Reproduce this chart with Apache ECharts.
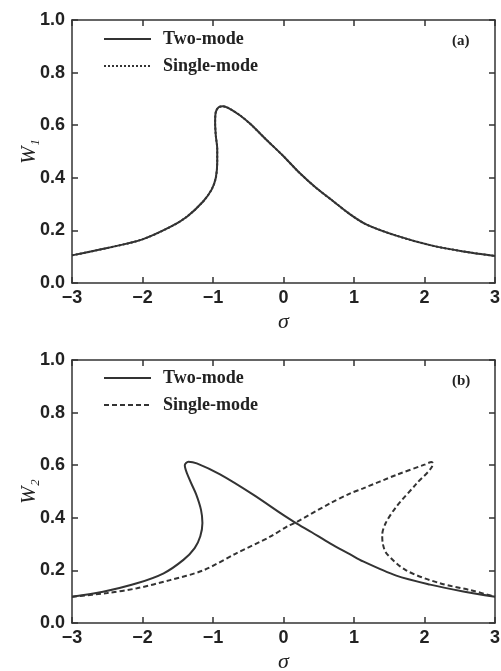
<!DOCTYPE html>
<html>
<head>
<meta charset="utf-8">
<script src="https://cdn.jsdelivr.net/npm/echarts@6/dist/echarts.min.js"></script>
<style>
  html, body { margin: 0; padding: 0; background: #fff; }
  #chart { width: 501px; height: 671px; }
</style>
</head>
<body>
<div id="chart"></div>
<script>
// panel (a): both models give the same W1 curve
const sigmaTop = [-3, -2.5, -2.0, -1.6, -1.37, -1.14, -1.02, -0.96, -0.94, -0.94, -0.96, -0.97, -0.96, -0.92, -0.86, -0.78, -0.62, -0.48, -0.24, 0, 0.23, 0.47, 0.71, 0.94, 1.18, 1.6, 2.08, 2.55, 3]
const w1 = [0.105, 0.133, 0.166, 0.214, 0.252, 0.31, 0.355, 0.40, 0.46, 0.51, 0.56, 0.61, 0.65, 0.668, 0.672, 0.665, 0.638, 0.607, 0.544, 0.482, 0.418, 0.36, 0.31, 0.262, 0.222, 0.18, 0.144, 0.12, 0.103]

// panel (b)
const sigmaTwo = [-3, -2.56, -2.08, -1.70, -1.42, -1.26, -1.18, -1.15, -1.17, -1.24, -1.33, -1.40, -1.35, -1.23, -0.90, -0.43, 0, 0.16, 0.4, 0.66, 0.94, 1.13, 1.6, 2.08, 2.55, 3]
const w2Two = [0.10, 0.119, 0.151, 0.189, 0.24, 0.285, 0.33, 0.38, 0.43, 0.49, 0.544, 0.60, 0.613, 0.607, 0.565, 0.488, 0.41, 0.383, 0.345, 0.303, 0.262, 0.234, 0.18, 0.146, 0.12, 0.10]
const sigmaSingle = [-3, -2.5, -2.08, -1.61, -1.14, -0.67, -0.19, 0.07, 0.16, 0.66, 0.94, 1.13, 1.6, 2.0, 2.1, 2.12, 1.89, 1.6, 1.45, 1.40, 1.41, 1.46, 1.74, 2.22, 2.65, 3]
const w2Single = [0.10, 0.114, 0.132, 0.163, 0.20, 0.265, 0.328, 0.37, 0.38, 0.455, 0.492, 0.512, 0.563, 0.602, 0.612, 0.607, 0.531, 0.442, 0.38, 0.335, 0.30, 0.265, 0.20, 0.151, 0.125, 0.10]

const xTicks = [-3, -2, -1, 0, 1, 2, 3]
const yTicks = [0, 0.2, 0.4, 0.6, 0.8, 1.0]

const pairs = (xs, ys) => xs.map((x, i) => [x, ys[i]])

const ink = '#333'
const numFont = '"Liberation Sans", Arial, sans-serif'
const serif = '"Liberation Serif", "DejaVu Serif", serif'

const chart = echarts.init(document.getElementById('chart'))

// every axis stays "on zero"; the frame axes get shifted ranges so their zero
// falls on the grid edge they belong to (same tick spacing as the real axes)
const xSpan = xTicks[xTicks.length - 1] - xTicks[0]
const ySpan = yTicks[yTicks.length - 1] - yTicks[0]
const axisLine = (onZeroAxisIndex) => ({ onZero: true, onZeroAxisIndex, lineStyle: { color: ink, width: 1.5 } })
const axisTick = () => ({ inside: true, length: 6, lineStyle: { color: ink, width: 1.5 } })
const numLabel = () => ({ color: '#222', fontSize: 18, fontWeight: 'bold', fontFamily: numFont })

const xAxes = []
const yAxes = []
;[0, 1].forEach(g => {
    const xb = 3 * g, xt = 3 * g + 1, xh = 3 * g + 2
    const yl = 2 * g, yr = 2 * g + 1
    xAxes.push({ // bottom, labelled
        type: 'value', gridIndex: g, position: 'bottom', min: xTicks[0], max: xTicks[xTicks.length - 1], interval: 1,
        axisLine: axisLine(yl), axisTick: axisTick(),
        axisLabel: Object.assign({ margin: 6, formatter: v => (v < 0 ? '\u2212' + Math.abs(v) : String(v)) }, numLabel()),
        splitLine: { show: false },
        name: 'σ', nameLocation: 'middle', nameGap: 28, nameMoveOverlap: false,
        nameTextStyle: { fontFamily: serif, fontStyle: 'italic', fontSize: 22, color: '#222' }
    })
    xAxes.push({ // top frame
        type: 'value', gridIndex: g, position: 'top', min: -xSpan, max: 0, interval: 1,
        axisLine: axisLine(yr), axisTick: axisTick(),
        axisLabel: { show: false }, splitLine: { show: false }
    })
    xAxes.push({ // helper, only gives the left axis a zero at the left edge
        type: 'value', gridIndex: g, show: false, min: 0, max: xSpan
    })
    yAxes.push({ // left, labelled
        type: 'value', gridIndex: g, position: 'left', min: yTicks[0], max: yTicks[yTicks.length - 1], interval: 0.2,
        axisLine: axisLine(xh), axisTick: axisTick(),
        axisLabel: Object.assign({ margin: 7, formatter: v => v.toFixed(1) }, numLabel()),
        splitLine: { show: false },
        name: g === 0 ? 'W₁' : 'W₂', nameLocation: 'middle', nameGap: 32, nameMoveOverlap: false,
        nameTextStyle: { fontFamily: serif, fontStyle: 'italic', fontSize: 21, color: '#222' }
    })
    yAxes.push({ // right frame
        type: 'value', gridIndex: g, position: 'right', min: -ySpan, max: 0, interval: 0.2,
        axisLine: axisLine(xt), axisTick: axisTick(),
        axisLabel: { show: false }, splitLine: { show: false }
    })
})

const lineSeries = (name, g, data, type) => ({
    name, type: 'line', xAxisIndex: g * 3, yAxisIndex: g * 2, data,
    symbol: 'none', smooth: 0.3, silent: true,
    itemStyle: { color: ink },
    lineStyle: { color: ink, width: 2, type: type || 'solid' }
})

const legendFor = (top, dash) => ({
    orient: 'vertical', left: 103, top, padding: 0,
    itemWidth: 47, itemHeight: 18, itemGap: 9,
    selectedMode: false,
    itemStyle: { opacity: 0 },
    textStyle: {
        fontFamily: serif, fontWeight: 'bold', fontSize: 18, lineHeight: 18,
        color: '#222', padding: [0, 0, 0, 7]
    },
    data: [
        { name: 'Two-mode', lineStyle: { type: 'solid', width: 2, color: ink } },
        { name: 'Single-mode', lineStyle: { type: dash, width: 2, color: ink } }
    ]
})

const titleStyle = { fontFamily: serif, fontWeight: 'bold', fontSize: 15, color: '#222' }

chart.setOption({
    animation: false,
    title: [
        { text: '(a)', left: 452, top: 34, padding: 0, textStyle: titleStyle },
        { text: '(b)', left: 452, top: 374, padding: 0, textStyle: titleStyle }
    ],
    legend: [legendFor(30, [2, 2]), legendFor(369, [5, 3])],
    grid: [
        { left: 72, top: 20, width: 423, height: 263, outerBoundsMode: 'none' },
        { left: 72, top: 360, width: 423, height: 263, outerBoundsMode: 'none' }
    ],
    xAxis: xAxes,
    yAxis: yAxes,
    series: [
        lineSeries('Single-mode', 0, pairs(sigmaTop, w1), [2, 2]),
        lineSeries('Two-mode', 0, pairs(sigmaTop, w1)),
        lineSeries('Two-mode', 1, pairs(sigmaTwo, w2Two)),
        lineSeries('Single-mode', 1, pairs(sigmaSingle, w2Single), [5, 3])
    ]
})
</script>
</body>
</html>
